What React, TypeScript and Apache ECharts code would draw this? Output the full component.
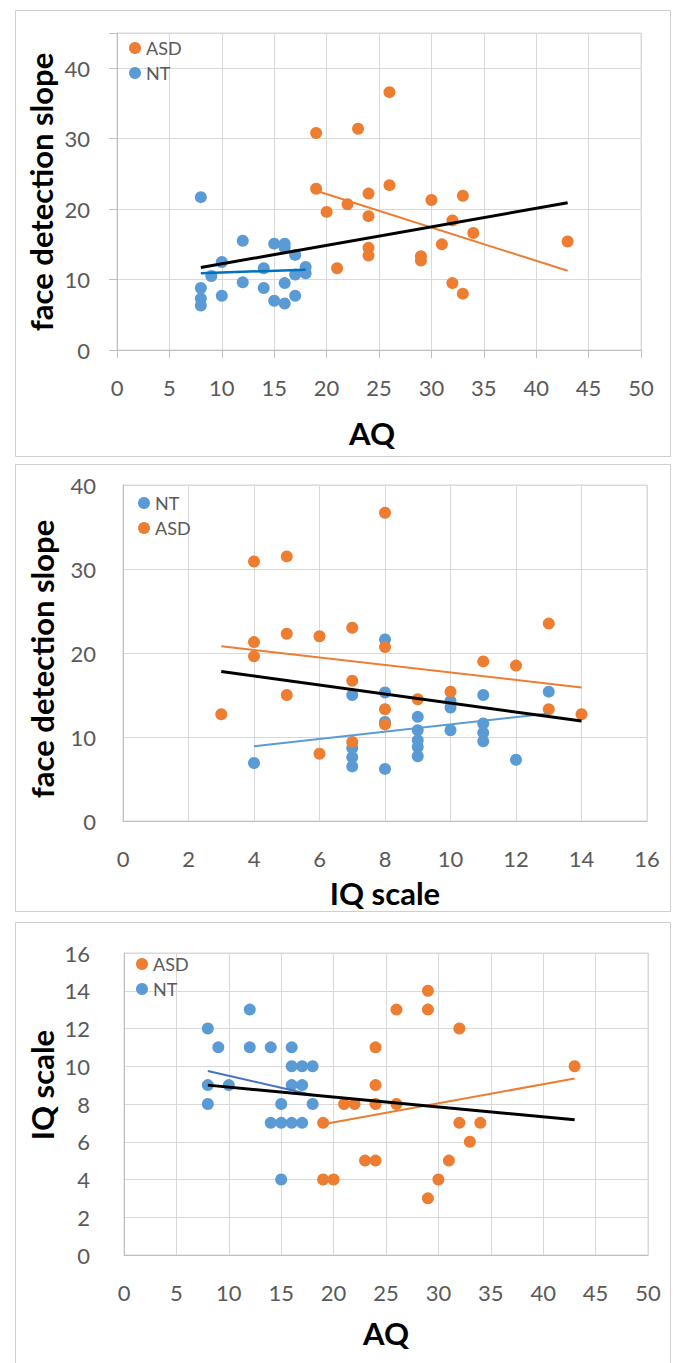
import React, { useEffect, useRef } from "react";
import * as echarts from "echarts";

// Panel 1: AQ vs face detection slope
const p1ASD: [number, number][] = [
  [19, 30.8], [23, 31.4], [26, 36.6], [19, 22.9], [26, 23.4], [24, 22.2], [20, 19.6], [22, 20.7],
  [24, 19.0], [30, 21.3], [33, 21.9], [32, 18.4], [34, 16.6], [31, 15.0], [43, 15.4], [24, 14.5],
  [24, 13.4], [29, 13.3], [29, 12.7], [21, 11.6], [32, 9.5], [33, 8.0],
];
const p1NT: [number, number][] = [
  [8, 21.7], [12, 15.5], [15, 15.1], [16, 15.1], [16, 14.5], [17, 13.5], [10, 12.5], [14, 11.6],
  [18, 11.8], [18, 10.9], [17, 10.7], [9, 10.5], [12, 9.6], [16, 9.5], [8, 8.8], [14, 8.8],
  [10, 7.7], [17, 7.7], [8, 7.3], [15, 7.0], [8, 6.3], [16, 6.6],
];
const p1TrendAll: [number, number][] = [[8, 11.7], [43, 20.9]];
const p1TrendASD: [number, number][] = [[19, 22.6], [43, 11.25]];
const p1TrendNT: [number, number][] = [[8, 10.9], [18, 11.4]];

// Panel 2: IQ scale vs face detection slope
const p2NT: [number, number][] = [
  [8, 21.6], [7, 15.0], [8, 15.3], [10, 14.3], [10, 13.5], [11, 15.0], [13, 15.4], [8, 11.8],
  [9, 12.4], [9, 10.8], [10, 10.8], [11, 11.6], [11, 10.5], [11, 9.5], [7, 8.7], [7, 7.6],
  [7, 6.5], [9, 9.6], [9, 8.8], [9, 7.7], [4, 6.9], [8, 6.2], [12, 7.3],
];
const p2ASD: [number, number][] = [
  [8, 36.7], [4, 30.9], [5, 31.5], [13, 23.5], [4, 21.3], [5, 22.3], [6, 22.0], [7, 23.0],
  [8, 20.7], [4, 19.6], [11, 19.0], [12, 18.5], [7, 16.7], [5, 15.0], [9, 14.5], [10, 15.4],
  [13, 13.3], [14, 12.7], [3, 12.7], [8, 13.3], [8, 11.5], [7, 9.4], [6, 8.0],
];
const p2TrendAll: [number, number][] = [[3, 17.8], [14, 11.9]];
const p2TrendASD: [number, number][] = [[3, 20.8], [14, 15.9]];
const p2TrendNT: [number, number][] = [[4, 8.9], [13, 12.8]];

// Panel 3: AQ vs IQ scale
const p3ASD: [number, number][] = [
  [29, 14], [26, 13], [29, 13], [32, 12], [24, 11], [43, 10], [24, 9], [21, 8], [22, 8], [24, 8],
  [26, 8], [19, 7], [32, 7], [34, 7], [33, 6], [23, 5], [24, 5], [31, 5], [19, 4], [20, 4],
  [30, 4], [29, 3],
];
const p3NT: [number, number][] = [
  [12, 13], [8, 12], [9, 11], [12, 11], [14, 11], [16, 11], [16, 10], [17, 10], [18, 10],
  [8, 9], [10, 9], [16, 9], [17, 9], [8, 8], [15, 8], [18, 8], [14, 7], [15, 7], [16, 7],
  [17, 7], [15, 4],
];
const p3TrendAll: [number, number][] = [[8, 9.0], [43, 7.16]];
const p3TrendASD: [number, number][] = [[19, 6.93], [43, 9.35]];
const p3TrendNT: [number, number][] = [[8, 9.75], [18, 8.48]];

const ORANGE = "#ED7D31";
const BLUE = "#5B9BD5";
const FONT = "Lato, 'Open Sans', sans-serif";
const LABEL = "#595959";

export default function App() {
  const ref = useRef<HTMLDivElement>(null);
  useEffect(() => {
    if (!ref.current) return;
    const chart = echarts.init(ref.current, null, { renderer: "svg" });

    const valueAxis = (gridIndex: number, min: number, max: number, interval: number, margin: number, ticks: boolean, hideMax = false) => ({
      type: "value",
      gridIndex,
      min,
      max,
      interval,
      axisLine: { show: true, lineStyle: { color: "#BFBFBF", width: 1 } },
      axisTick: { show: ticks, length: 8, lineStyle: { color: "#BFBFBF" } },
      splitLine: { show: true, lineStyle: { color: "#D9D9D9", width: 1 } },
      axisLabel: {
        margin,
        color: LABEL,
        fontSize: 22,
        fontFamily: FONT,
        formatter: (v: number) => (hideMax && v === max ? "" : String(v)),
      },
    });

    const scatter = (name: string, data: [number, number][], color: string, idx: number) => ({
      type: "scatter",
      name,
      data,
      xAxisIndex: idx,
      yAxisIndex: idx,
      symbolSize: 12,
      itemStyle: { color, opacity: 1 },
      z: 2,
    });
    const trend = (data: [number, number][], color: string, width: number, idx: number) => ({
      type: "line",
      data,
      xAxisIndex: idx,
      yAxisIndex: idx,
      showSymbol: false,
      symbol: "none",
      lineStyle: { color, width },
      z: 3,
      silent: true,
    });

    const legend = (data: string[], left: number, top: number) => ({
      data,
      left,
      top,
      orient: "vertical",
      icon: "circle",
      itemWidth: 12,
      itemHeight: 12,
      itemGap: 7,
      padding: 0,
      textStyle: { fontSize: 18, color: LABEL, fontFamily: FONT },
    });

    const title = (text: string, x: number, y: number, rotate = false) => ({
      type: "text",
      x,
      y,
      rotation: rotate ? Math.PI / 2 : 0,
      style: {
        text,
        fontSize: 31,
        fontWeight: "bold",
        fontFamily: FONT,
        fill: "#000000",
        align: "center",
        verticalAlign: "middle",
      },
    });

    const panel = (y: number, h: number) => ({
      type: "rect",
      shape: { x: 15.5, y: y + 0.5, width: 655, height: h },
      style: { fill: "none", stroke: "#CFCFCF", lineWidth: 1 },
      z: -1,
    });

    chart.setOption({
      animation: false,
      backgroundColor: "#ffffff",
      grid: [
        { left: 117, right: 32, top: 33, height: 317, show: true, borderColor: "#D9D9D9", borderWidth: 1 },
        { left: 123, right: 26, top: 485, height: 336, show: true, borderColor: "#D9D9D9", borderWidth: 1 },
        { left: 124, right: 25, top: 953, height: 302, show: true, borderColor: "#D9D9D9", borderWidth: 1 },
      ],
      xAxis: [
        valueAxis(0, 0, 50, 5, 26, true),
        valueAxis(1, 0, 16, 2, 26, false),
        valueAxis(2, 0, 50, 5, 26, false),
      ],
      yAxis: [
        valueAxis(0, 0, 45, 10, 27, true, true),
        valueAxis(1, 0, 40, 10, 27, false),
        valueAxis(2, 0, 16, 2, 34, false),
      ],
      legend: [
        legend(["ASD", "NT"], 129, 39),
        legend(["NT", "ASD"], 138, 494),
        legend(["ASD", "NT"], 136, 955),
      ],
      graphic: [
        panel(10, 446),
        panel(464, 447),
        panel(922, 460),
        title("AQ", 372, 433),
        title("face detection slope", 41, 192, true),
        title("IQ scale", 385, 893),
        title("face detection slope", 42, 659, true),
        title("AQ", 386, 1333),
        title("IQ scale", 42, 1085, true),
      ],
      series: [
        scatter("ASD", p1ASD, ORANGE, 0),
        scatter("NT", p1NT, BLUE, 0),
        trend(p1TrendASD, ORANGE, 2, 0),
        trend(p1TrendNT, "#0070C0", 2.5, 0),
        trend(p1TrendAll, "#000000", 3, 0),

        scatter("NT", p2NT, BLUE, 1),
        scatter("ASD", p2ASD, ORANGE, 1),
        trend(p2TrendASD, ORANGE, 2, 1),
        trend(p2TrendNT, BLUE, 2, 1),
        trend(p2TrendAll, "#000000", 3, 1),

        scatter("ASD", p3ASD, ORANGE, 2),
        scatter("NT", p3NT, BLUE, 2),
        trend(p3TrendASD, ORANGE, 2, 2),
        trend(p3TrendNT, "#4472C4", 2, 2),
        trend(p3TrendAll, "#000000", 3, 2),
      ],
    });
    return () => chart.dispose();
  }, []);

  return (
    <div
      ref={ref}
      style={{ position: "absolute", left: 0, top: 0, width: 673, height: 1363, background: "#fff" }}
    />
  );
}
